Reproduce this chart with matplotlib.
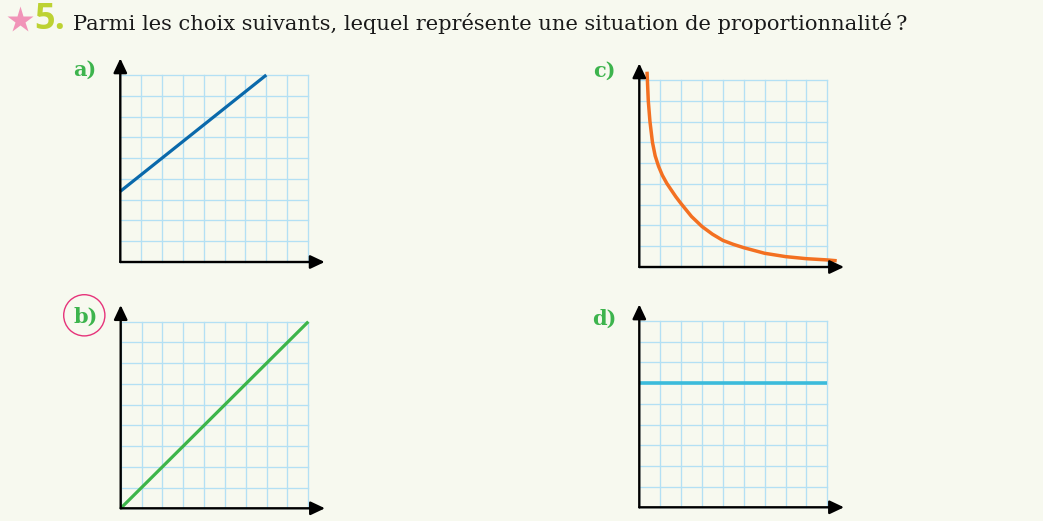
import matplotlib
matplotlib.use("Agg")
import matplotlib.pyplot as plt
from matplotlib.patches import Circle

# ---------------- data ----------------
title_text = "Parmi les choix suivants, lequel représente une situation de proportionnalité\u202f?"
exercise_number = "5."
panel_labels = ["a)", "b)", "c)", "d)"]

a_x = [0, 7]
a_y = [3.4, 9]

b_x = [0, 9]
b_y = [0, 9]

c_x = [0.37, 0.43, 0.51, 0.63, 0.76, 0.92, 1.1, 1.32, 1.5, 1.75, 2.0, 2.5, 3.0, 3.5, 4.0, 4.5, 5.0, 6.0, 7.0, 8.0, 9.0, 9.45]
c_y = [9.4, 8.0, 7.0, 6.0, 5.35, 4.85, 4.42, 4.02, 3.75, 3.38, 3.05, 2.43, 1.95, 1.58, 1.28, 1.09, 0.93, 0.66, 0.50, 0.40, 0.34, 0.30]

d_x = [0, 9]
d_y = [6, 6]

grid_ticks = list(range(10))

# ---------------- style ----------------
W, H = 1043, 521
BG = "#f7f9ef"
GRID = "#b3e0f4"
GREEN_LABEL = "#3db44d"

fig = plt.figure(figsize=(W / 100, H / 100), dpi=100, facecolor=BG)

# overlay for texts (pixel coordinates, y downward)
ov = fig.add_axes([0, 0, 1, 1])
ov.set_xlim(0, W)
ov.set_ylim(H, 0)
ov.axis("off")
ov.patch.set_alpha(0)


def panel(left, top, right, bottom, xs, ys, color, lw=2.3):
    ax = fig.add_axes([left / W, (H - bottom) / H, (right - left) / W, (bottom - top) / H])
    ax.set_xlim(0, 9)
    ax.set_ylim(0, 9)
    ax.set_xticks(grid_ticks)
    ax.set_yticks(grid_ticks)
    ax.tick_params(length=0, labelbottom=False, labelleft=False)
    ax.grid(True, color=GRID, lw=0.95)
    for gl in ax.get_xgridlines() + ax.get_ygridlines():
        gl.set_clip_on(False)
    for sp in ax.spines.values():
        sp.set_visible(False)
    ax.patch.set_alpha(0)
    ax.plot(xs, ys, color=color, lw=lw, clip_on=False, solid_capstyle="butt",
            solid_joinstyle="round", zorder=3)
    style = "-|>,head_length=0.72,head_width=0.34"
    for tip in [(9.8, 0), (0, 9.8)]:
        ax.annotate("", xy=tip, xytext=(0, 0), annotation_clip=False,
                    arrowprops=dict(arrowstyle=style, color="black", lw=1.7,
                                    shrinkA=0, shrinkB=0, mutation_scale=12),
                    zorder=4)
    return ax


panel(120.3, 75, 308, 262, a_x, a_y, "#0a69ab")
panel(120.7, 321.7, 308.3, 508.3, b_x, b_y, "#3db54a")
panel(639.3, 80, 827.3, 267, c_x, c_y, "#f37021", lw=2.5)
panel(639.3, 321, 827.3, 507.3, d_x, d_y, "#3bbbdb", lw=2.6)

# star and number
ov.plot([20.3], [19.7], marker="*", markersize=19.7, color="#f194b8", mec="none")
ov.text(34, 29.3, exercise_number, fontsize=26, fontweight="bold", family="Open Sans",
        color="#bdd232", va="baseline", ha="left")

# title
t = ov.text(73.3, 29.5, title_text, fontsize=16, family=["DejaVu Serif", "DejaVu Sans"],
            color="#1a1a1a", va="baseline", ha="left")
fig.canvas.draw()
w = t.get_window_extent().width
t.set_fontsize(16 * 834 / w)

# panel labels
label_pos = [(73, 75.7), (73.3, 322.3), (592.7, 76.7), (592.3, 324.3)]
for lab, (x, y) in zip(panel_labels, label_pos):
    ov.text(x, y, lab, fontsize=15, fontweight="bold", family="DejaVu Serif",
            color=GREEN_LABEL, va="baseline", ha="left")

ov.add_patch(Circle((84.3, 315.3), 20.6, fill=False, ec="#e6337a", lw=1.0))

fig.savefig("out.png", dpi=100, facecolor=BG)
